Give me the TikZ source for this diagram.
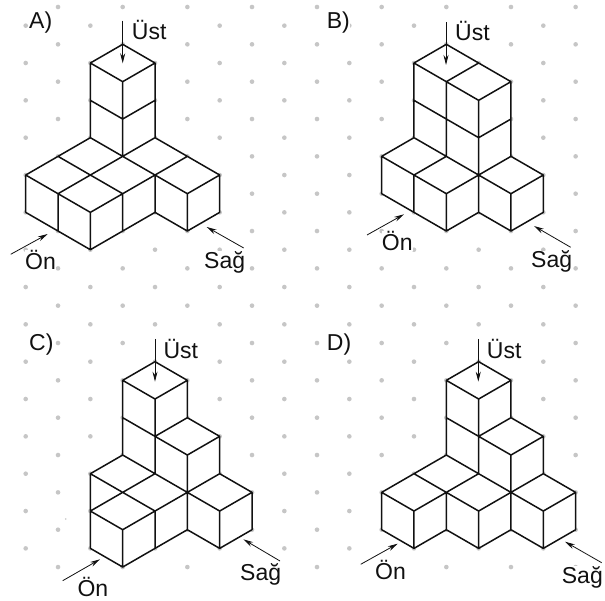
\documentclass[tikz,border=0pt]{standalone}
\usepackage{fontspec}
\setmainfont{Liberation Sans}
\usetikzlibrary{arrows.meta}
\definecolor{griddotc}{HTML}{C6C6C6}
\definecolor{inkc}{HTML}{111111}
\tikzset{
  griddot/.style={fill=griddotc},
  sil/.style={fill=white},
  cube/.style={draw=inkc,line width=1.5pt,line join=round,line cap=round},
  viewarrow/.style={draw=inkc,line width=0.8pt,-{Stealth[length=10pt,width=5pt]}},
  lbl/.style={anchor=base west,inner sep=0pt,fill=white,text=inkc,font=\fontsize{23}{24}\selectfont},
  panel/.style={x=32.33pt,y=-18.67pt},
}
\newcommand{\dotgrid}[2]{%
  \foreach \i in {0,...,8}{\foreach \j in {0,...,#2}{%
    \pgfmathtruncatemacro\p{mod(\i+\j+#1,2)}%
    \ifnum\p=0 \fill[griddot] (\i,\j) circle[radius=2.3pt];\fi}}}
\begin{document}
\begin{tikzpicture}[x=1pt,y=1pt]
\useasboundingbox (0,0) rectangle (605,-601);
\fill[white] (0,0) rectangle (605,-601);
% dots
\begin{scope}[panel,shift={(25.7pt,-7pt)}]\dotgrid{1}{15}\end{scope}
\begin{scope}[panel,shift={(317pt,-7pt)}]\dotgrid{0}{15}\end{scope}
\begin{scope}[panel,shift={(25.7pt,-305.67pt)}]\dotgrid{1}{14}\end{scope}
\begin{scope}[panel,shift={(317pt,-305.67pt)}]\dotgrid{0}{14}\end{scope}
\fill[griddotc] (65.7,-519) circle[radius=0.9pt];
% labels
\node[lbl] (lA) at (29,-28.3) {A)};
\node[lbl] (uA) at (131.7,-40) {Üst};
\node[lbl] (oA) at (25,-269.3) {Ön};
\node[lbl] (sA) at (204,-268.3) {Sağ};
\node[lbl] (lB) at (326.7,-28.3) {B)};
\node[lbl] (uB) at (455,-40.7) {Üst};
\node[lbl] (oB) at (381.7,-250.7) {Ön};
\node[lbl] (sB) at (531,-267.7) {Sağ};
\node[lbl] (lC) at (29,-350.7) {C)};
\node[lbl] (uC) at (163.3,-358.3) {Üst};
\node[lbl] (oC) at (77.3,-596) {Ön};
\node[lbl] (sC) at (240,-580) {Sağ};
\node[lbl] (lD) at (326.7,-350.7) {D)};
\node[lbl] (uD) at (486.7,-358.3) {Üst};
\node[lbl] (oD) at (375,-579.3) {Ön};
\node[lbl] (sD) at (561.7,-583.3) {Sağ};
% A
\begin{scope}[panel,shift={(25.7pt,-7pt)}]
\fill[sil] (3,2)--(4,3)--(4,7)--(6,9)--(6,11)--(5,12)--(4,11)--(2,13)--(0,11)--(0,9)--(2,7)--(2,3)--cycle;
\draw[cube] (3,2)--(4,3)--(3,4)--(2,3)--cycle
 (2,3)--(2,7) (4,3)--(4,7) (3,4)--(3,8) (2,5)--(3,6)--(4,5)
 (2,7)--(0,9)--(2,11)--(4,9) (1,8)--(3,10) (2,7)--(5,10) (4,7)--(6,9)--(5,10)
 (5,8)--(4,9) (4,7)--(1,10)
 (0,9)--(0,11) (1,10)--(1,12) (2,11)--(2,13) (3,10)--(3,12) (4,9)--(4,11) (5,10)--(5,12) (6,9)--(6,11)
 (0,11)--(2,13)--(4,11)--(5,12)--(6,11);
\end{scope}
% B
\begin{scope}[panel,shift={(317pt,-7pt)}]
\fill[sil] (4,2)--(6,4)--(6,8)--(7,9)--(7,11)--(6,12)--(5,11)--(4,12)--(2,10)--(2,8)--(3,7)--(3,3)--cycle;
\draw[cube] (4,2)--(6,4)--(5,5)--(3,3)--cycle (5,3)--(4,4)
 (3,3)--(3,7) (4,4)--(4,8) (5,5)--(5,11) (6,4)--(6,8) (3,5)--(5,7)--(6,6)
 (3,7)--(2,8)--(4,10)--(5,9) (3,7)--(6,10)--(7,9)--(6,8)--(5,9) (4,8)--(3,9)
 (2,8)--(2,10) (3,9)--(3,11) (4,10)--(4,12) (6,10)--(6,12) (7,9)--(7,11)
 (2,10)--(4,12)--(5,11)--(6,12)--(7,11);
\end{scope}
% C
\begin{scope}[panel,shift={(25.7pt,-305.67pt)}]
\fill[sil] (4,3)--(5,4)--(5,6)--(6,7)--(6,9)--(7,10)--(7,12)--(6,13)--(5,12)--(3,14)--(2,13)--(2,9)--(3,8)--(3,4)--cycle;
\draw[cube] (4,3)--(5,4)--(4,5)--(3,4)--cycle
 (3,4)--(3,8) (4,5)--(4,9) (5,4)--(5,6) (3,6)--(5,8) (5,6)--(4,7) (5,6)--(6,7)--(5,8)--(5,12) (6,7)--(6,9)
 (3,8)--(2,9)--(4,11) (3,8)--(6,11) (4,9)--(2,11)--(3,12)--(5,10)--(6,9)--(7,10)--(6,11)
 (2,9)--(2,13) (3,12)--(3,14) (4,11)--(4,13) (6,11)--(6,13) (7,10)--(7,12)
 (2,13)--(3,14)--(5,12)--(6,13)--(7,12);
\end{scope}
% D
\begin{scope}[panel,shift={(317pt,-305.67pt)}]
\fill[sil] (5,3)--(6,4)--(6,6)--(7,7)--(7,9)--(8,10)--(8,12)--(7,13)--(6,12)--(5,13)--(4,12)--(3,13)--(2,12)--(2,10)--(4,8)--(4,4)--cycle;
\draw[cube] (5,3)--(6,4)--(5,5)--(4,4)--cycle
 (4,4)--(4,8) (5,5)--(5,9) (6,4)--(6,6) (4,6)--(6,8) (6,6)--(5,7) (6,6)--(7,7)--(6,8)--(6,12) (7,7)--(7,9)
 (4,8)--(2,10)--(3,11)--(5,9) (4,8)--(7,11)--(8,10)--(7,9)--(5,11)--(3,9)
 (2,10)--(2,12) (3,11)--(3,13) (4,10)--(4,12) (5,11)--(5,13) (7,11)--(7,13) (8,10)--(8,12)
 (2,12)--(3,13)--(4,12)--(5,13)--(6,12)--(7,13)--(8,12);
\end{scope}
% viewing arrows
\coordinate (a1) at (122.7,-20.7); \coordinate (a2) at (122.7,-63.3);
\coordinate (a3) at (10.7,-254.3); \coordinate (a4) at (47.7,-234);
\coordinate (a5) at (243.7,-248); \coordinate (a6) at (206.7,-227);
\coordinate (b1) at (446,-22.3); \coordinate (b2) at (446,-65);
\coordinate (b3) at (367,-235); \coordinate (b4) at (404,-214.3);
\coordinate (b5) at (570.7,-247.3); \coordinate (b6) at (534,-226);
\coordinate (c1) at (155,-339); \coordinate (c2) at (155,-381.7);
\coordinate (c3) at (62.7,-580.7); \coordinate (c4) at (100,-559.3);
\coordinate (c5) at (280,-561); \coordinate (c6) at (243.3,-539.3);
\coordinate (d1) at (478.3,-339); \coordinate (d2) at (478.3,-381.7);
\coordinate (d3) at (360.7,-564.3); \coordinate (d4) at (397.7,-543.7);
\coordinate (d5) at (601.7,-562.7); \coordinate (d6) at (565,-541.7);
\foreach \s/\e in {a1/a2,a3/a4,a5/a6,b1/b2,b3/b4,b5/b6,c1/c2,c3/c4,c5/c6,d1/d2,d3/d4,d5/d6}
  \draw[viewarrow] (\s) -- (\e);
\end{tikzpicture}
\end{document}
